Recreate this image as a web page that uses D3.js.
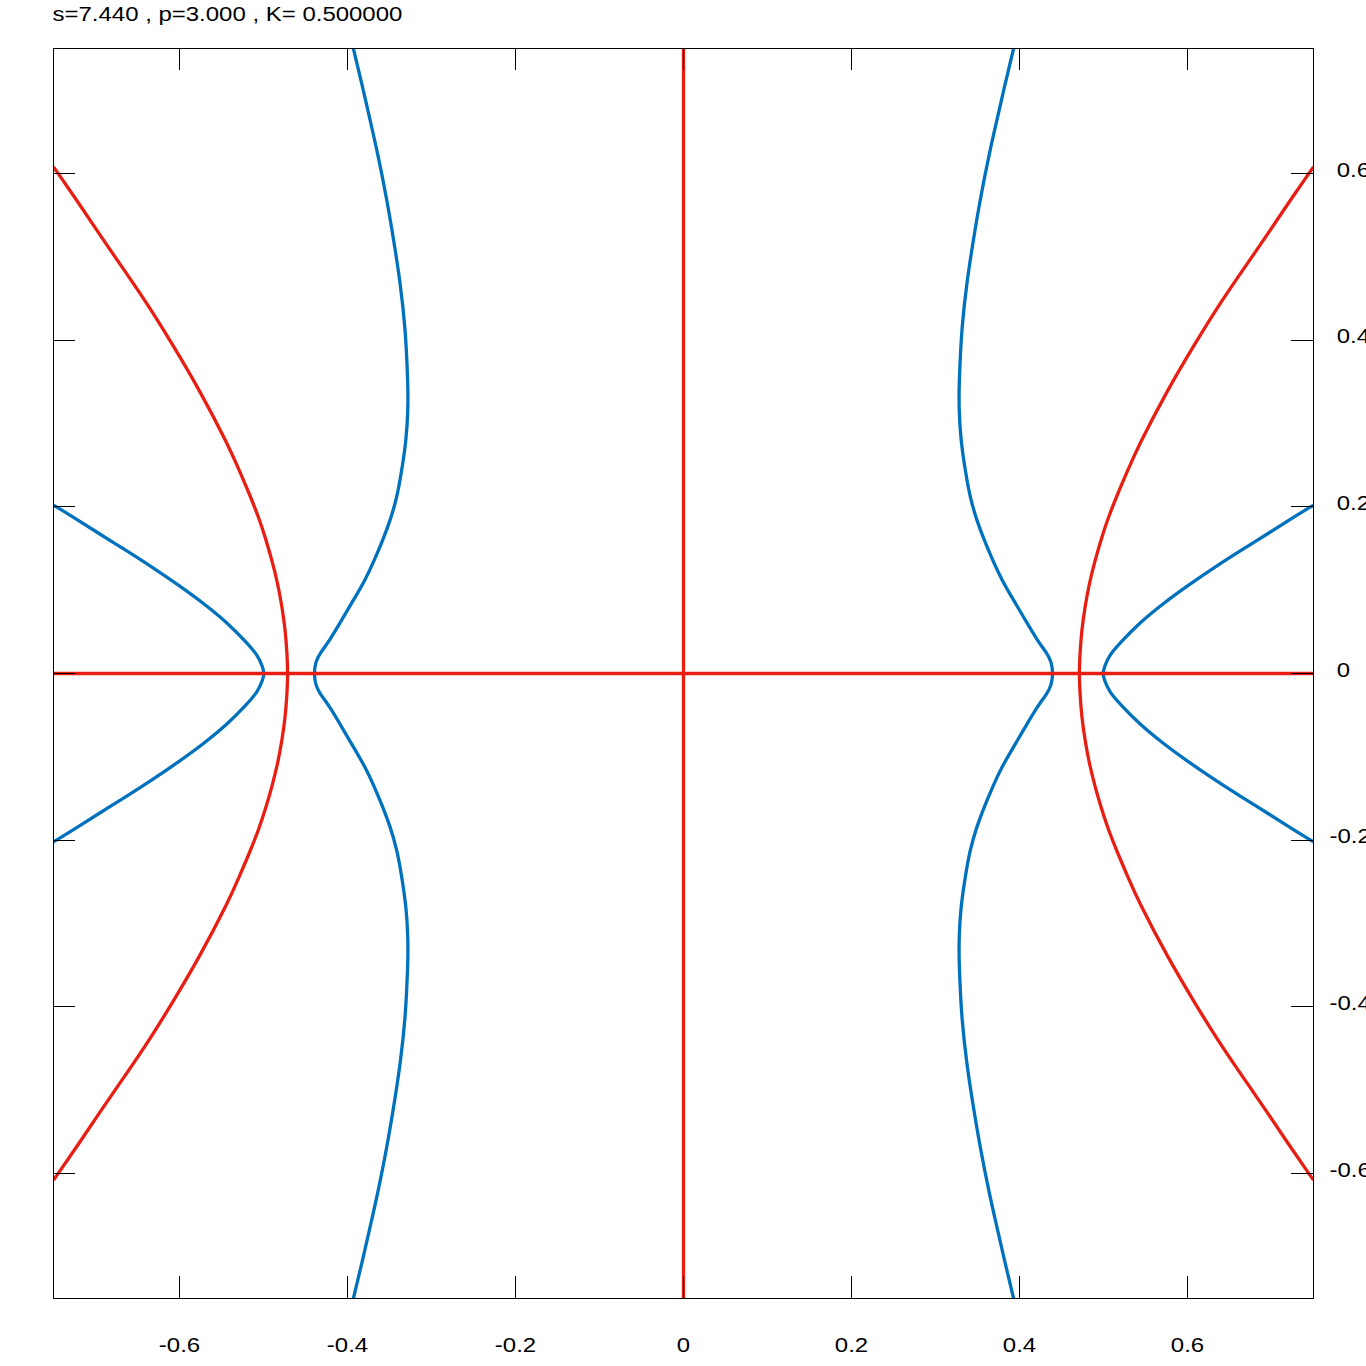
<!DOCTYPE html>
<html>
<head>
<meta charset="utf-8">
<script src="https://cdn.jsdelivr.net/npm/d3@7"></script>
<style>
html,body{margin:0;padding:0;background:#fff;}
svg{display:block;}
</style>
</head>
<body>
<script>
// ---------- data ----------
const titleText = "s=7.440 , p=3.000 , K= 0.500000";
const xDomain = [-0.75, 0.75];
const yDomain = [-0.75, 0.75];
const xTicks = [-0.6, -0.4, -0.2, 0, 0.2, 0.4, 0.6];
const xTickLabels = ["-0.6", "-0.4", "-0.2", "0", "0.2", "0.4", "0.6"];
const yTicks = [-0.6, -0.4, -0.2, 0, 0.2, 0.4, 0.6];
const yTickLabels = ["-0.6", "-0.4", "-0.2", "0", "0.2", "0.4", "0.6"];

// red curves
const redHorizontal = [[-0.75, 0], [0.75, 0]];
const redVertical = [[0, 0.75], [0, -0.75]];
const redLeft = [[-0.750,0.608],[-0.721,0.566],[-0.696,0.528],[-0.663,0.480],[-0.636,0.440],[-0.609,0.396],[-0.576,0.340],[-0.541,0.272],[-0.529,0.244],[-0.517,0.216],[-0.506,0.188],[-0.498,0.164],[-0.490,0.136],[-0.483,0.108],[-0.478,0.080],[-0.474,0.052],[-0.472,0.024],[-0.471,0.000],[-0.472,-0.024],[-0.474,-0.052],[-0.478,-0.080],[-0.483,-0.108],[-0.490,-0.136],[-0.498,-0.164],[-0.506,-0.188],[-0.517,-0.216],[-0.529,-0.244],[-0.541,-0.272],[-0.576,-0.340],[-0.609,-0.396],[-0.636,-0.440],[-0.663,-0.480],[-0.696,-0.528],[-0.721,-0.566],[-0.750,-0.608]];
const redRight = [[0.750,0.608],[0.721,0.566],[0.696,0.528],[0.663,0.480],[0.636,0.440],[0.609,0.396],[0.576,0.340],[0.541,0.272],[0.529,0.244],[0.517,0.216],[0.506,0.188],[0.498,0.164],[0.490,0.136],[0.483,0.108],[0.478,0.080],[0.474,0.052],[0.472,0.024],[0.471,0.000],[0.472,-0.024],[0.474,-0.052],[0.478,-0.080],[0.483,-0.108],[0.490,-0.136],[0.498,-0.164],[0.506,-0.188],[0.517,-0.216],[0.529,-0.244],[0.541,-0.272],[0.576,-0.340],[0.609,-0.396],[0.636,-0.440],[0.663,-0.480],[0.696,-0.528],[0.721,-0.566],[0.750,-0.608]];

// blue curves
const blueOuterLeft = [[-0.750,0.202],[-0.727,0.188],[-0.696,0.168],[-0.664,0.148],[-0.633,0.128],[-0.601,0.106],[-0.571,0.084],[-0.542,0.060],[-0.519,0.036],[-0.507,0.022],[-0.501,0.008],[-0.499,0.000],[-0.501,-0.008],[-0.507,-0.022],[-0.519,-0.036],[-0.542,-0.060],[-0.571,-0.084],[-0.601,-0.106],[-0.633,-0.128],[-0.664,-0.148],[-0.696,-0.168],[-0.727,-0.188],[-0.750,-0.202]];
const blueOuterRight = [[0.750,0.202],[0.727,0.188],[0.696,0.168],[0.664,0.148],[0.633,0.128],[0.601,0.106],[0.571,0.084],[0.542,0.060],[0.519,0.036],[0.507,0.022],[0.501,0.008],[0.499,0.000],[0.501,-0.008],[0.507,-0.022],[0.519,-0.036],[0.542,-0.060],[0.571,-0.084],[0.601,-0.106],[0.633,-0.128],[0.664,-0.148],[0.696,-0.168],[0.727,-0.188],[0.750,-0.202]];
const blueInnerLeft = [[-0.393,0.750],[-0.383,0.708],[-0.374,0.668],[-0.364,0.624],[-0.353,0.568],[-0.345,0.520],[-0.337,0.468],[-0.331,0.412],[-0.329,0.368],[-0.328,0.342],[-0.328,0.316],[-0.330,0.280],[-0.336,0.240],[-0.341,0.212],[-0.349,0.184],[-0.358,0.160],[-0.368,0.136],[-0.379,0.112],[-0.393,0.088],[-0.407,0.064],[-0.421,0.040],[-0.433,0.024],[-0.438,0.014],[-0.440,0.000],[-0.438,-0.014],[-0.433,-0.024],[-0.421,-0.040],[-0.407,-0.064],[-0.393,-0.088],[-0.379,-0.112],[-0.368,-0.136],[-0.358,-0.160],[-0.349,-0.184],[-0.341,-0.212],[-0.336,-0.240],[-0.330,-0.280],[-0.328,-0.316],[-0.328,-0.342],[-0.329,-0.368],[-0.331,-0.412],[-0.337,-0.468],[-0.345,-0.520],[-0.353,-0.568],[-0.364,-0.624],[-0.374,-0.668],[-0.383,-0.708],[-0.393,-0.750]];
const blueInnerRight = [[0.393,0.750],[0.383,0.708],[0.374,0.668],[0.364,0.624],[0.353,0.568],[0.345,0.520],[0.337,0.468],[0.331,0.412],[0.329,0.368],[0.328,0.342],[0.328,0.316],[0.330,0.280],[0.336,0.240],[0.341,0.212],[0.349,0.184],[0.358,0.160],[0.368,0.136],[0.379,0.112],[0.393,0.088],[0.407,0.064],[0.421,0.040],[0.433,0.024],[0.438,0.014],[0.440,0.000],[0.438,-0.014],[0.433,-0.024],[0.421,-0.040],[0.407,-0.064],[0.393,-0.088],[0.379,-0.112],[0.368,-0.136],[0.358,-0.160],[0.349,-0.184],[0.341,-0.212],[0.336,-0.240],[0.330,-0.280],[0.328,-0.316],[0.328,-0.342],[0.329,-0.368],[0.331,-0.412],[0.337,-0.468],[0.345,-0.520],[0.353,-0.568],[0.364,-0.624],[0.374,-0.668],[0.383,-0.708],[0.393,-0.750]];

const blueCurves = [blueOuterLeft, blueOuterRight, blueInnerLeft, blueInnerRight];
const redCurves = [redHorizontal, redVertical, redLeft, redRight];

// ---------- drawing ----------
const W = 1366, H = 1366;
const L = 53, R = 1313, T = 48, B = 1298;
const S = 1.17;          // horizontal text stretch
const FS = 20.5;         // font size
const FONT = "'Liberation Sans', Arial, Helvetica, sans-serif";
const RED = "#e81e12", BLUE = "#0072bd";

const x = d3.scaleLinear().domain(xDomain).range([L, R]);
const y = d3.scaleLinear().domain(yDomain).range([B, T]);

const svg = d3.select("body").append("svg").attr("width", W).attr("height", H);
svg.append("rect").attr("width", W).attr("height", H).attr("fill", "#fff");

svg.append("defs").append("clipPath").attr("id", "plotclip")
  .append("rect").attr("x", L).attr("y", T).attr("width", R - L + 1).attr("height", B - T + 1);

const line = d3.line()
  .x(d => x(d[0]) + 0.5)
  .y(d => y(d[1]) + 0.5)
  .curve(d3.curveBasis);

const plot = svg.append("g").attr("clip-path", "url(#plotclip)");
plot.selectAll("path.blue").data(blueCurves).join("path")
  .attr("class", "blue").attr("d", line)
  .attr("fill", "none").attr("stroke", BLUE).attr("stroke-width", 3.3)
  .attr("stroke-linejoin", "round").attr("stroke-linecap", "butt");
plot.selectAll("path.red").data(redCurves).join("path")
  .attr("class", "red").attr("d", line)
  .attr("fill", "none").attr("stroke", RED).attr("stroke-width", 3.3)
  .attr("stroke-linejoin", "round").attr("stroke-linecap", "butt");

// frame
svg.append("rect").attr("x", L + 0.5).attr("y", T + 0.5)
  .attr("width", R - L).attr("height", B - T)
  .attr("fill", "none").attr("stroke", "#000").attr("stroke-width", 1)
  .attr("shape-rendering", "crispEdges");

function styleAxis(g) {
  g.attr("font-family", FONT).attr("font-size", FS);
  g.select(".domain").remove();
  g.selectAll(".tick line").attr("shape-rendering", "crispEdges").attr("stroke", "#000");
  g.selectAll(".tick text").attr("fill", "#000");
}

// bottom axis with labels
const gB = svg.append("g").attr("transform", `translate(0,${B})`)
  .call(d3.axisBottom(x).tickValues(xTicks).tickFormat((d, i) => xTickLabels[i])
    .tickSizeInner(-22).tickSizeOuter(0));
styleAxis(gB);
gB.selectAll(".tick text").attr("y", 53.7).attr("dy", null)
  .attr("transform", `scale(${S},1)`);

// top axis (ticks only)
const gT = svg.append("g").attr("transform", `translate(0,${T})`)
  .call(d3.axisTop(x).tickValues(xTicks).tickFormat("").tickSizeInner(-22).tickSizeOuter(0));
styleAxis(gT);

// left axis (ticks only)
const gL = svg.append("g").attr("transform", `translate(${L},0)`)
  .call(d3.axisLeft(y).tickValues(yTicks).tickFormat("").tickSizeInner(-22).tickSizeOuter(0));
styleAxis(gL);

// right axis with labels
const gR = svg.append("g").attr("transform", `translate(${R},0)`)
  .call(d3.axisRight(y).tickValues(yTicks).tickFormat((d, i) => yTickLabels[i])
    .tickSizeInner(-22).tickSizeOuter(0));
styleAxis(gR);
gR.selectAll(".tick text")
  .attr("text-anchor", "start")
  .attr("x", d => (d < 0 ? 16.5 : 23.7) / S)
  .attr("dy", 3)
  .attr("transform", `scale(${S},1)`);

// title
svg.append("text")
  .attr("transform", `translate(52.5,20.7) scale(${S},1)`)
  .attr("font-family", FONT).attr("font-size", FS).attr("fill", "#000")
  .text(titleText);
</script>
</body>
</html>
